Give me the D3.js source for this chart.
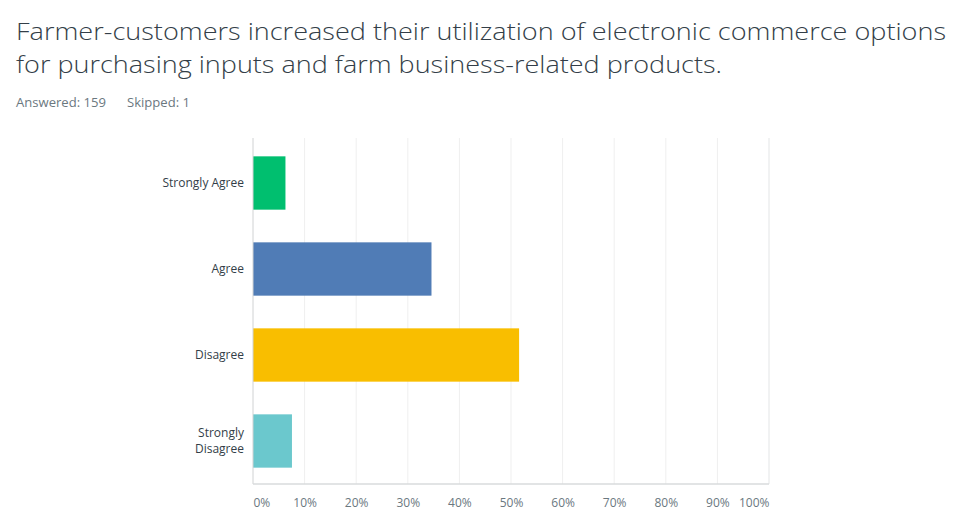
<!DOCTYPE html>
<html><head><meta charset="utf-8">
<script src="https://cdn.jsdelivr.net/npm/d3@7"></script>
<style>body{margin:0;background:#fff}svg{display:block}</style>
</head><body>
<svg id="c" width="960" height="529"></svg>
<script>
const titleLines = ["Farmer-customers increased their utilization of electronic commerce options","for purchasing inputs and farm business-related products."];
const subtitle = ["Answered: 159","Skipped: 1"];
const categories = ["Strongly Agree","Agree","Disagree","Strongly Disagree"];
const categoryLines = [["Strongly Agree"],["Agree"],["Disagree"],["Strongly","Disagree"]];
const values = [6.29, 34.59, 51.57, 7.55];
const colors = ["#00bf6f","#507cb6","#f9be00","#6bc8cd"];
const ticks = [0,10,20,30,40,50,60,70,80,90,100];

const svg = d3.select("#c");
const font = "'Open Sans', sans-serif";
const m = {left:253, right:769, top:138, bottom:484};

const x = d3.scaleLinear().domain([0,100]).range([m.left,m.right]);
const y = d3.scaleBand().domain(categories).range([m.top+2,m.bottom]).paddingInner(0.38).paddingOuter(0.19);

// title
const tw = [930, 706];
titleLines.forEach((t,i)=>{
  svg.append("text").attr("x",16).attr("y",40+i*32.5)
    .attr("font-family",font).attr("font-weight",300).attr("font-size",23)
    .attr("fill","#333e48").attr("textLength",tw[i]).attr("lengthAdjust","spacingAndGlyphs").text(t);
});
svg.append("text").attr("x",16).attr("y",107).attr("font-family",font).attr("font-size",13)
  .attr("fill","#6b787f").attr("textLength",90).attr("lengthAdjust","spacingAndGlyphs").text(subtitle[0]);
svg.append("text").attr("x",127).attr("y",107).attr("font-family",font).attr("font-size",13)
  .attr("fill","#6b787f").attr("textLength",63).attr("lengthAdjust","spacingAndGlyphs").text(subtitle[1]);

// gridlines
svg.append("g").selectAll("line").data(ticks.slice(1)).join("line")
  .attr("x1",d=>x(d)).attr("x2",d=>x(d)).attr("y1",m.top).attr("y2",m.bottom)
  .attr("stroke",d=>d===100?"#e3e5e6":"#efefef").attr("stroke-width",1);

// bars
svg.append("g").selectAll("rect").data(categories).join("rect")
  .attr("x",x(0)).attr("y",d=>y(d)).attr("height",y.bandwidth())
  .attr("width",(d,i)=>x(values[i])-x(0)).attr("fill",(d,i)=>colors[i]);

// axes lines
svg.append("line").attr("x1",x(0)).attr("x2",x(0)).attr("y1",m.top).attr("y2",m.bottom).attr("stroke","#d0d2d3");
svg.append("line").attr("x1",x(0)).attr("x2",m.right).attr("y1",m.bottom).attr("y2",m.bottom).attr("stroke","#d9dbdc").attr("stroke-width",1.5);

// x tick labels
const xAxis = svg.append("g").attr("transform",`translate(0,${m.bottom})`)
  .call(d3.axisBottom(x).tickValues(ticks).tickFormat(d=>d+"%").tickSize(0).tickPadding(14));
xAxis.select(".domain").remove();
xAxis.selectAll("text").attr("font-family",font).attr("font-size",12).attr("fill","#6b787f")
  .attr("text-anchor",d=>d===0?"start":(d===100?"end":"middle"));

// category labels
const yAxis = svg.append("g").attr("transform",`translate(${m.left},0)`)
  .call(d3.axisLeft(y).tickSize(0).tickPadding(9).tickFormat(""));
yAxis.select(".domain").remove();
yAxis.selectAll(".tick").each(function(d,i){
  const lines = categoryLines[i];
  const t = d3.select(this).select("text").attr("font-family",font).attr("font-size",12).attr("fill","#333e48").attr("x",-9).attr("dy",null);
  lines.forEach((l,j)=>{
    t.append("tspan").attr("x",-9).attr("y",(j-(lines.length-1)/2)*16).attr("dy","0.35em").text(l);
  });
});
</script>
</body></html>
